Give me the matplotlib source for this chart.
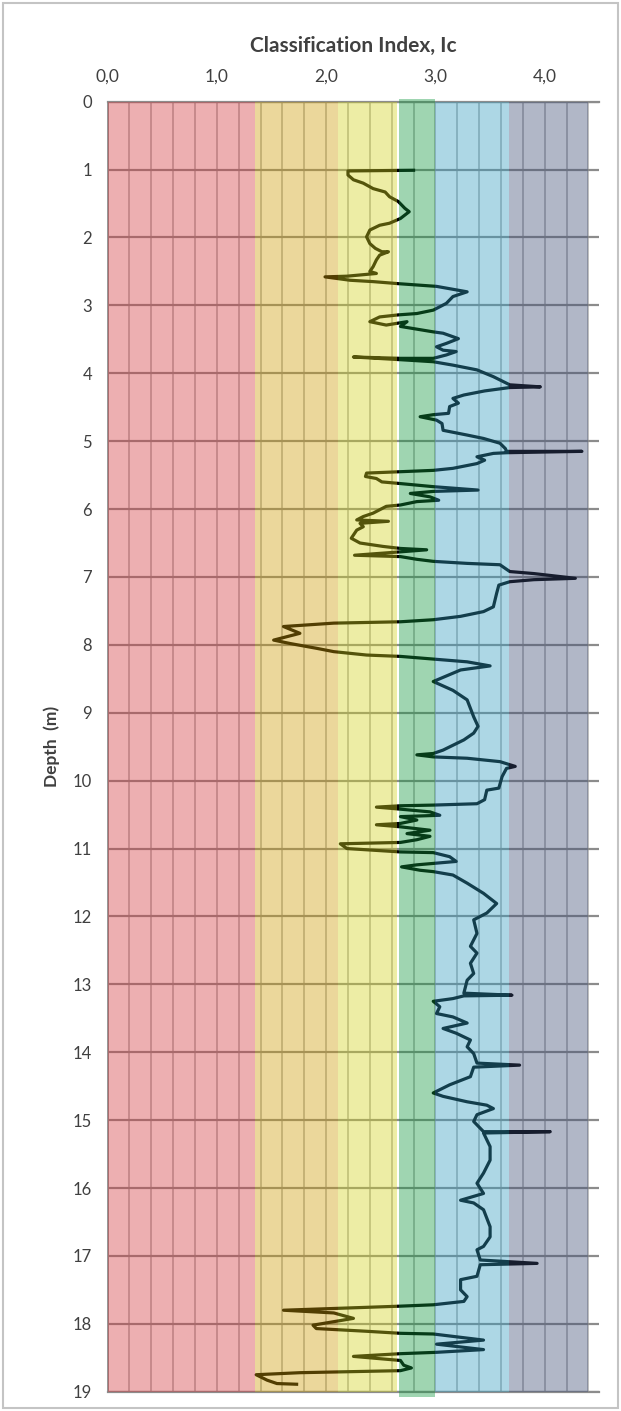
import numpy as np
import matplotlib
matplotlib.use("Agg")
import matplotlib.pyplot as plt
from matplotlib.patches import Rectangle

# ---------------- data ----------------
zone_edges = [0.0, 1.35, 2.11, 2.66, 3.00, 3.67, 4.40]
zone_colors = ["#D4393E", "#CF9D07", "#D4D41E", "#11983E", "#329DC0", "#3C4B75"]

x_ticks = [0, 1, 2, 3, 4]
x_tick_labels = ["0,0", "1,0", "2,0", "3,0", "4,0"]
y_ticks = list(range(0, 20))

ic = [2.80, 2.20, 2.20, 2.25, 2.34, 2.43, 2.54, 2.58, 2.66, 2.72, 2.76, 2.68, 2.58, 2.49, 2.40, 2.37,
      2.40, 2.45, 2.51, 2.57, 2.49, 2.46, 2.43, 2.40, 2.46, 2.19, 1.99, 2.22, 2.43, 2.66, 3.01, 3.29,
      3.16, 3.10, 2.98, 2.83, 2.66, 2.49, 2.40, 2.55, 2.74, 2.68, 2.98, 3.07, 3.21, 3.10, 3.01, 3.07,
      3.19, 3.10, 2.98, 2.68, 2.25, 2.68, 2.98, 3.16, 3.38, 3.53, 3.68, 3.96, 3.68, 3.45, 3.26, 3.16,
      3.21, 3.13, 3.12, 2.98, 2.86, 3.01, 3.06, 3.07, 3.29, 3.44, 3.59, 3.64,
      3.65, 4.34, 3.65, 3.53, 3.38, 3.45, 3.38, 3.16, 2.98, 2.68, 2.37, 2.36, 2.46, 2.51, 2.65, 2.98,
      3.39, 2.98, 2.77, 2.95, 3.03, 2.83, 2.68, 2.55, 2.43, 2.34, 2.28, 2.57, 2.31, 2.34, 2.28, 2.23,
      2.31, 2.52, 2.68, 2.92, 2.68, 2.26, 2.68, 2.83, 2.98, 3.29, 3.59, 3.68, 3.90, 4.28, 3.90, 3.68,
      3.58, 3.56, 3.53, 3.44, 3.23, 2.98, 2.68, 2.07, 1.61, 1.76, 1.52, 1.67, 1.91, 2.07, 2.37, 2.68,
      2.98, 3.29, 3.50, 3.23, 2.98, 3.16, 3.29, 3.35,
      3.35, 3.39, 3.35, 3.26, 3.07, 2.98, 2.83, 2.98, 3.29, 3.59, 3.73, 3.65, 3.61, 3.58, 3.47, 3.45,
      3.38, 2.98, 2.68, 2.46, 2.68, 2.95, 3.04, 2.68, 2.83, 2.68, 2.46, 2.68, 2.95, 2.74, 2.95, 2.83,
      2.68, 2.13, 2.19, 2.68, 2.98, 3.13, 3.19, 2.98, 2.83, 2.69, 2.86, 2.98, 3.16, 3.29, 3.44, 3.56,
      3.47, 3.35, 3.38, 3.32, 3.38, 3.32, 3.35, 3.29, 3.26, 3.70, 3.26,
      3.16, 2.98, 3.04, 3.01, 3.16, 3.29, 3.07, 3.19, 3.32, 3.29, 3.35, 3.38, 3.77, 3.35, 3.32, 3.13,
      2.98, 3.07, 3.29, 3.47, 3.53, 3.38, 3.35, 3.44, 4.05, 3.44, 3.50, 3.50, 3.44, 3.38, 3.44, 3.23,
      3.35, 3.44, 3.50,
      3.50, 3.44, 3.38, 3.41, 3.93, 3.41, 3.38, 3.23, 3.23, 3.29, 3.26, 2.98, 2.68, 1.61, 2.07, 2.25,
      1.88, 1.91, 2.37, 2.68, 2.98, 3.44, 3.01, 3.44, 3.01, 2.68, 2.25, 2.68, 2.71, 2.78, 2.68, 1.76,
      1.36, 1.46, 1.55, 1.73]

depth = [1.01, 1.02, 1.08, 1.15, 1.20, 1.28, 1.33, 1.40, 1.47, 1.57, 1.62, 1.72, 1.79, 1.82, 1.89, 1.99,
         2.09, 2.16, 2.21, 2.21, 2.26, 2.33, 2.43, 2.50, 2.53, 2.57, 2.58, 2.63, 2.65, 2.68, 2.72, 2.80,
         2.87, 2.97, 3.07, 3.12, 3.14, 3.17, 3.24, 3.29, 3.24, 3.31, 3.39, 3.41, 3.49, 3.56, 3.61, 3.66,
         3.68, 3.73, 3.78, 3.78, 3.76, 3.80, 3.83, 3.88, 3.95, 4.05, 4.17, 4.20, 4.21, 4.26, 4.32, 4.37,
         4.44, 4.49, 4.59, 4.61, 4.64, 4.69, 4.74, 4.84, 4.91, 4.96, 5.03, 5.11,
         5.15, 5.15, 5.17, 5.18, 5.23, 5.28, 5.33, 5.40, 5.43, 5.45, 5.47, 5.52, 5.55, 5.60, 5.62, 5.67,
         5.72, 5.74, 5.77, 5.82, 5.87, 5.89, 5.94, 5.96, 6.06, 6.11, 6.16, 6.18, 6.21, 6.26, 6.31, 6.43,
         6.50, 6.55, 6.58, 6.60, 6.63, 6.68, 6.70, 6.74, 6.77, 6.80, 6.82, 6.92, 6.95, 7.02, 7.04, 7.07,
         7.12, 7.24, 7.44, 7.51, 7.58, 7.63, 7.66, 7.68, 7.73, 7.83, 7.93, 7.98, 8.05, 8.10, 8.15, 8.17,
         8.21, 8.25, 8.31, 8.37, 8.54, 8.67, 8.81, 9.06,
         9.06, 9.20, 9.30, 9.40, 9.55, 9.60, 9.62, 9.65, 9.67, 9.72, 9.79, 9.82, 9.94, 10.11, 10.14, 10.28,
         10.34, 10.36, 10.37, 10.39, 10.42, 10.46, 10.51, 10.53, 10.58, 10.63, 10.65, 10.68, 10.73, 10.78, 10.82, 10.87,
         10.91, 10.93, 11.00, 11.05, 11.06, 11.12, 11.19, 11.22, 11.24, 11.27, 11.32, 11.34, 11.39, 11.51, 11.66, 11.81,
         11.95, 12.05, 12.25, 12.44, 12.54, 12.69, 12.84, 12.94, 13.13, 13.16, 13.17,
         13.21, 13.25, 13.33, 13.43, 13.48, 13.57, 13.65, 13.72, 13.82, 13.92, 14.02, 14.16, 14.19, 14.22, 14.36, 14.48,
         14.60, 14.65, 14.73, 14.78, 14.83, 14.92, 15.02, 15.17, 15.17, 15.19, 15.39, 15.59, 15.78, 15.93, 16.08, 16.18,
         16.22, 16.32, 16.57,
         16.72, 16.86, 16.91, 17.06, 17.11, 17.13, 17.30, 17.35, 17.50, 17.60, 17.67, 17.72, 17.74, 17.80, 17.84, 17.92,
         18.02, 18.07, 18.11, 18.14, 18.15, 18.24, 18.30, 18.38, 18.42, 18.44, 18.48, 18.54, 18.61, 18.65, 18.69, 18.72,
         18.75, 18.83, 18.88, 18.89]

# ---------------- figure ----------------
W, H = 621, 1411
fig = plt.figure(figsize=(W / 100, H / 100), dpi=100)
fig.patch.set_facecolor("white")

left_px, right_px, top_px, bot_px = 107.5, 599.4, 101.7, 1391.7
ax = fig.add_axes([left_px / W, 1 - bot_px / H, (right_px - left_px) / W, (bot_px - top_px) / H])
ax.set_facecolor("white")

font = ["Lato", "DejaVu Sans"]
txt_col = "#404040"

# curve (drawn beneath the translucent zone bands, like the original)
ax.plot(ic, depth, color="#000000", lw=2.3, zorder=2, solid_joinstyle="round")

# zone bands
for i, col in enumerate(zone_colors):
    x0, x1 = zone_edges[i], zone_edges[i + 1]
    if i == 2:
        x1 -= 0.008
    if i == 3:
        x0 += 0.008
        ax.fill_betweenx([-0.04, 19.08], x0, x1, color=col, alpha=0.4, lw=0, zorder=3, clip_on=False)
    else:
        ax.fill_betweenx([0, 19], x0, x1, color=col, alpha=0.4, lw=0, zorder=3)

ax.set_xlim(0, 4.5)
ax.set_ylim(19, 0)

# ticks / grid
ax.set_xticks(x_ticks)
ax.set_xticklabels(x_tick_labels)
ax.set_xticks(np.arange(0.2, 4.41, 0.2), minor=True)
ax.set_yticks(y_ticks)
ax.set_yticklabels([str(v) for v in y_ticks])
ax.xaxis.set_ticks_position("top")
ax.tick_params(axis="both", which="both", length=0)
ax.tick_params(axis="x", pad=12, labelsize=12.5, labelcolor=txt_col)
ax.tick_params(axis="y", pad=11, labelsize=12, labelcolor=txt_col)
for lab in ax.get_xticklabels() + ax.get_yticklabels():
    lab.set_family(font)

ax.set_axisbelow(True)
ax.grid(axis="x", which="both", color="#B4B4B4", lw=1.2)
ax.grid(axis="y", which="major", color="#8C8C8C", lw=1.6)

ax.spines["right"].set_visible(False)
for s in ["top", "bottom"]:
    ax.spines[s].set_color("#8C8C8C")
    ax.spines[s].set_linewidth(1.6)
ax.spines["left"].set_color("#8C8C8C")
ax.spines["left"].set_linewidth(1.3)

# titles
fig.text(((left_px + right_px) / 2) / W, 1 - 46 / H, "Classification Index, Ic",
         ha="center", va="center", fontsize=15, fontweight="bold", color=txt_col, family=font)
fig.text(52 / W, 1 - ((top_px + bot_px) / 2) / H, "Depth  (m)", rotation=90,
         ha="center", va="center", fontsize=12.5, fontweight="bold", color=txt_col, family=font)

# outer chart border
fig.patches.append(Rectangle((3 / W, 3 / H), (W - 6) / W, (H - 6) / H, transform=fig.transFigure,
                             fill=False, edgecolor="#C4C4C4", lw=1.5))

fig.savefig("out.png", dpi=100, facecolor="white")
